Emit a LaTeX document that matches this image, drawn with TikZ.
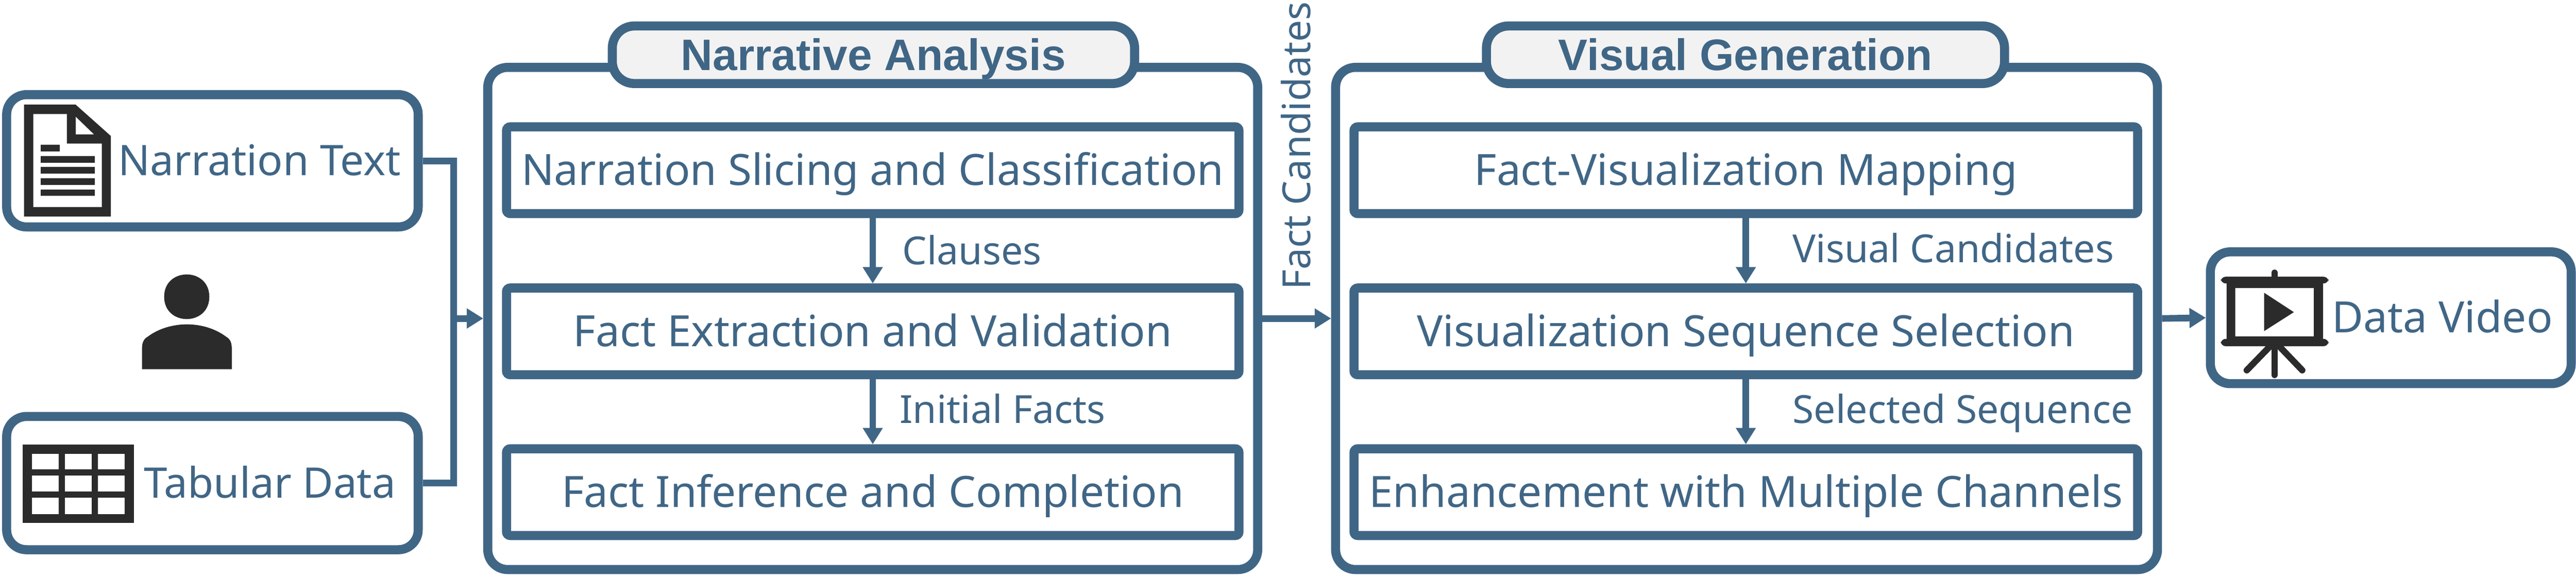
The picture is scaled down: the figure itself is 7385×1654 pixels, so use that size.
\documentclass[tikz,border=0pt]{standalone}
\usepackage{fontspec}
\setmainfont{Noto Sans}
\newfontfamily\titlefont{Liberation Sans}
\usepackage{xcolor}
\usetikzlibrary{positioning, arrows.meta}
\definecolor{flowblue}{HTML}{406686}
\definecolor{icondark}{HTML}{2B2B2B}
\definecolor{pillgray}{HTML}{F2F2F2}
\newcommand{\mainsize}{\fontsize{17.6}{20}\selectfont}
\newcommand{\inputsize}{\fontsize{17.2}{20}\selectfont}
\newcommand{\smallsize}{\fontsize{15.8}{18}\selectfont}

\begin{document}
\begin{tikzpicture}[x=0.005cm,y=-0.005cm,
	outerbox/.style={draw=flowblue,line width=3.7pt,rounded corners=8.1pt,fill=white,inner sep=0pt,minimum width=#1},
	pill/.style={draw=flowblue,line width=3.7pt,rounded corners=9pt,fill=pillgray,inner sep=0pt,minimum width=#1,minimum height=23.5pt,text=flowblue,font=\titlefont\fontsize{18}{20}\selectfont\bfseries,text height=12.6pt,text depth=0pt},
	stage/.style={draw=flowblue,line width=3.7pt,rounded corners=1.5pt,fill=white,inner sep=0pt,minimum width=#1,minimum height=35.4pt,text=flowblue,font=\mainsize,text height=12.4pt,text depth=0pt},
	caption/.style={text=flowblue,font=\inputsize,inner sep=0pt,anchor=base},
	note/.style={text=flowblue,font=\smallsize,inner sep=0pt,anchor=base west},
	link/.style={draw=flowblue,line width=2.7pt},
	flow/.style={link,-{Triangle[length=6.7pt,width=7.8pt]}},
	icon/.style={fill=icondark,even odd rule}]
	\useasboundingbox (0,0) rectangle (7385,1654);

	% inputs
	\node[outerbox=168pt,minimum height=54pt](narration) at (609,461) {};
	\node[outerbox=168pt,minimum height=54.4pt](tabular) at (609,1385) {};
	\node[caption](narrationlabel) at (744,503) {Narration Text};
	\node[caption](tabularlabel) at (774,1427) {Tabular Data};

	% narrative analysis
	\node[outerbox=314.3pt,minimum height=205pt](narrative) at (2502,913) {};
	\node[pill=213.2pt](narrativetitle) at (2504,157) {Narrative Analysis};
	\node[stage=299pt](slicing) at (2502,488) {Narration Slicing and Classification};
	\node[stage=299pt](extraction) at (2502,950) {Fact Extraction and Validation};
	\node[stage=299pt](inference) at (2502,1411) {Fact Inference and Completion};

	% visual generation
	\node[outerbox=335.5pt,minimum height=205pt](visual) at (5007,913) {};
	\node[pill=211.5pt](visualtitle) at (5004,157) {Visual Generation};
	\node[stage=319.9pt](mapping) at (5005,488) {Fact-Visualization Mapping};
	\node[stage=319.9pt](selection) at (5005,950) {Visualization Sequence Selection};
	\node[stage=319.9pt](enhancement) at (5005,1411) {Enhancement with Multiple Channels};

	% output
	\node[outerbox=147.3pt,minimum height=53.8pt](video) at (6854,911) {};
	\node[caption,font=\mainsize](videolabel) at (7002,954) {Data Video};

	% connectors
	\coordinate (junction) at (1300,913);
	\draw[link](narration.east) -| (junction);
	\draw[link](tabular.east) -| (junction);
	\draw[flow](junction) -- (narrative.west);
	\draw[flow](narrative.east) -- (visual.west);
	\draw[flow](visual.east) -- (video.west);
	\draw[flow](slicing) -- (extraction);
	\draw[flow](extraction) -- (inference);
	\draw[flow](mapping) -- (selection);
	\draw[flow](selection) -- (enhancement);

	% connector labels
	\node[note](clauses) at (2586,759) {Clauses};
	\node[note](facts) at (2578,1214) {Initial Facts};
	\node[note](visuals) at (5138,752) {Visual Candidates};
	\node[note](sequence) at (5138,1214) {Selected Sequence};
	\node[note,rotate=90](candidates) at (3757,832) {Fact Candidates};

	% document icon
	\begin{scope}[shift={(0,200)},xscale=.893,yscale=.927]
		\path[icon] (77,108) -- (243,108) -- (356,205) -- (356,454) -- (77,454) -- cycle
			(107,137) -- (215,137) -- (215,228) -- (327,228) -- (327,425) -- (107,425) -- cycle
			(243,145) -- (302,200) -- (243,200) -- cycle;
		\fill[icondark] (130,232) rectangle (192,252);
		\foreach \rowtop in {267,301,336,370}
			\fill[icondark] (130,\rowtop) rectangle (304,\rowtop+20);
		% person icon
		\fill[icondark] (527,702) .. controls (527,610) and (672,610) .. (672,702) .. controls (672,794) and (527,794) .. (527,702) -- cycle;
		\fill[icondark] (456,926) -- (456,860) .. controls (456,840) and (465,830) .. (475,825) .. controls (545,775) and (655,775) .. (725,825) .. controls (735,830) and (744,840) .. (744,860) -- (744,926) -- cycle;
		% table icon
		\fill[icondark] (72,1160) rectangle (430,1402);
		\foreach \rowtop/\rowbot in {1188/1236,1255/1304,1323/1374}
			\foreach \colleft/\colright in {102/188,208/295,314/401}
				\fill[white] (\colleft,\rowtop) rectangle (\colright,\rowbot);
	\end{scope}

	% projector icon
	\begin{scope}[shift={(6100,600)},xscale=.828,yscale=.383]
		\fill[icondark,rounded corners=2pt] (322,505) rectangle (695,555);
		\fill[icondark,rounded corners=2pt] (322,970) rectangle (695,1025);
		\path[icon] (342,540) rectangle (676,1000) (372,590) rectangle (644,952);
		\fill[icondark] (472,625) -- (575,770) -- (472,912) -- cycle;
		\draw[icondark,line width=2.6pt,line cap=round] (508,475) -- (508,520);
		\draw[icondark,line width=2.6pt,line cap=round] (508,1020) -- (508,1240);
		\draw[icondark,line width=2.6pt,line cap=round] (495,1020) -- (412,1205);
		\draw[icondark,line width=2.6pt,line cap=round] (522,1020) -- (604,1205);
	\end{scope}
\end{tikzpicture}
\end{document}
